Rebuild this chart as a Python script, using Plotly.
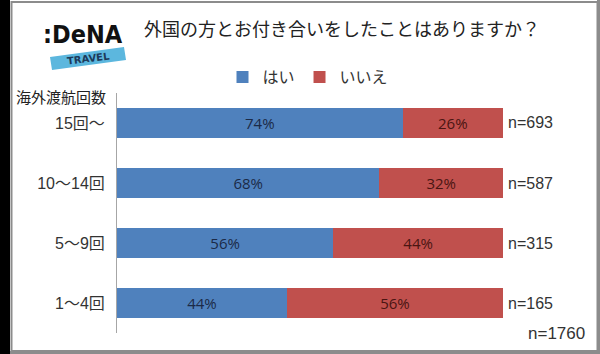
import plotly.graph_objects as go

categories = ["15回～", "10～14回", "5～9回", "1～4回"]
yes_pct = [74, 68, 56, 44]
no_pct = [26, 32, 44, 56]
n_counts = [693, 587, 315, 165]
n_total = 1760
series_names = ["はい", "いいえ"]
title_text = "外国の方とお付き合いをしたことはありますか？"
axis_title = "海外渡航回数"

W, H = 600, 354
BLUE = "#4f81bd"
RED = "#c0504d"
JP = "Noto Sans CJK JP"
LAT = "Liberation Sans, Noto Sans CJK JP"

fig = go.Figure()
fig.add_trace(go.Bar(
    y=categories, x=yes_pct, name=series_names[0], orientation="h",
    marker=dict(color=BLUE, line=dict(width=0)),
    text=[f"{v}%" for v in yes_pct], textposition="inside",
    insidetextanchor="middle", constraintext="none",
    insidetextfont=dict(color="#1b2a47", size=15, family="Open Sans"),
))
fig.add_trace(go.Bar(
    y=categories, x=no_pct, name=series_names[1], orientation="h",
    marker=dict(color=RED, line=dict(width=0)),
    text=[f"{v}%" for v in no_pct], textposition="inside",
    insidetextanchor="middle", constraintext="none",
    insidetextfont=dict(color="#4a1512", size=15, family="Open Sans"),
))

def px(x):
    return x / W

def py(y):
    return 1 - y / H

x0, x1 = 117, 503
y0, y1 = 93, 333

fig.update_layout(
    width=W, height=H, margin=dict(l=0, r=0, t=0, b=0),
    paper_bgcolor="white", plot_bgcolor="white",
    barmode="stack", bargap=0.5,
    showlegend=True,
    legend=dict(orientation="h", x=px(308), xanchor="center", y=py(77), yanchor="middle",
                font=dict(family=JP, size=16, color="#333333"),
                itemwidth=30, traceorder="normal", bgcolor="rgba(0,0,0,0)"),
    xaxis=dict(domain=[px(x0), px(x1)], range=[0, 100], visible=False, fixedrange=True),
    yaxis=dict(domain=[py(y1), py(y0)], autorange="reversed", showline=True,
               linecolor="#a6a6a6", linewidth=1, ticks="", showgrid=False,
               tickfont=dict(family=LAT, size=16, color="#333333"), ticklabelstandoff=8),
    font=dict(family=JP),
)

# n labels beside bars
for cat, n in zip(categories, n_counts):
    fig.add_annotation(x=100, y=cat, xref="x", yref="y", text=f"n={n}",
                       showarrow=False, xanchor="left", xshift=3,
                       font=dict(family=LAT, size=16, color="#333333"))
fig.add_annotation(x=px(587), y=py(333), xref="paper", yref="paper", text=f"n={n_total}",
                   showarrow=False, xanchor="right", yanchor="middle",
                   font=dict(family=LAT, size=17, color="#333333"))

# title
fig.add_annotation(x=px(342), y=py(28), xref="paper", yref="paper", text=title_text,
                   showarrow=False, xanchor="center", yanchor="middle",
                   font=dict(family=JP, size=18, color="#222222"))
# axis title
fig.add_annotation(x=px(14), y=py(97), xref="paper", yref="paper", text=axis_title,
                   showarrow=False, xanchor="left", yanchor="middle",
                   font=dict(family=JP, size=15, color="#222222"))

# frame
fig.add_shape(type="rect", xref="paper", yref="paper", x0=0, x1=px(10), y0=0, y1=1,
              fillcolor="black", line=dict(width=0), layer="above")
fig.add_shape(type="rect", xref="paper", yref="paper", x0=px(11.5), x1=px(597.5),
              y0=py(351), y1=py(2), line=dict(color="#8c8c8c", width=2), layer="above")
fig.add_shape(type="rect", xref="paper", yref="paper", x0=px(10), x1=1, y0=0, y1=py(351),
              fillcolor="#8c8c8c", line=dict(width=0), layer="above")
fig.add_shape(type="rect", xref="paper", yref="paper", x0=px(597), x1=1, y0=0, y1=1,
              fillcolor="#8c8c8c", line=dict(width=0), layer="above")

# logo
fig.add_shape(type="path", xref="paper", yref="paper",
              path=f"M {px(50)},{py(57)} L {px(124)},{py(47)} L {px(126)},{py(60)} L {px(52)},{py(70)} Z",
              fillcolor="#5cb7de", line=dict(width=0))
fig.add_annotation(x=px(83), y=py(34), xref="paper", yref="paper", text="<b>:DeNA</b>",
                   showarrow=False, xanchor="center", yanchor="middle",
                   font=dict(family="DejaVu Sans Condensed", size=25, color="#111111"))
fig.add_annotation(x=px(88), y=py(59), xref="paper", yref="paper", text="<b>TRAVEL</b>",
                   showarrow=False, xanchor="center", yanchor="middle", textangle=-7,
                   font=dict(family="DejaVu Sans", size=10, color="#1d3a5a"))

fig.write_html("out.html")
